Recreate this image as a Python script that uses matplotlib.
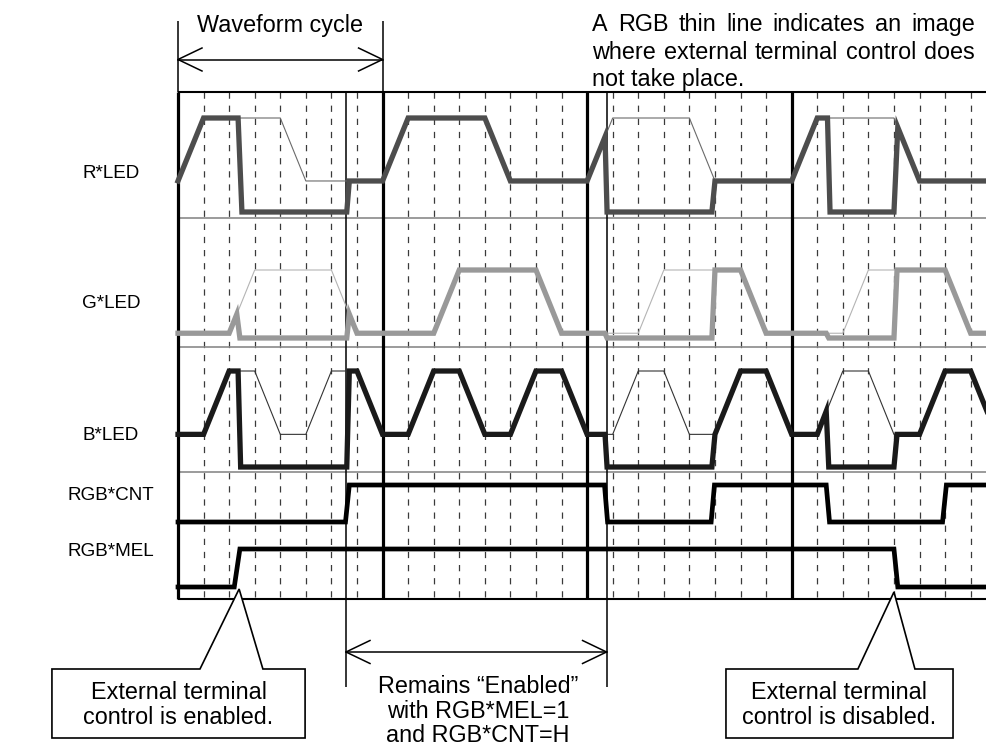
import matplotlib
matplotlib.use("Agg")
import matplotlib.pyplot as plt
from matplotlib.patches import Polygon

plt.rcParams['font.family'] = ['Liberation Sans', 'DejaVu Sans']

W, H, DPI = 987, 746, 100

# waveform breakpoints: time in grid units (8 per waveform cycle), level 0=low .. 1=high
R_MID, G_MID, B_MID = 0.33, 0.07, 0.34

r_norm_t = [0, 1, 4, 5, 8, 9, 12, 13, 16, 17, 20, 21, 24, 25, 28, 29, 31.7]
r_norm_v = [R_MID, 1, 1, R_MID, R_MID, 1, 1, R_MID, R_MID, 1, 1, R_MID, R_MID, 1, 1, R_MID, R_MID]
r_t = [0, 1, 2.35, 2.5, 6.6, 6.7, 8, 9, 12, 13, 16, 16.7, 16.78, 20.88, 21, 24, 25, 25.4, 25.5,
       28, 28.15, 29, 31.7]
r_v = [R_MID, 1, 1, 0, 0, R_MID, R_MID, 1, 1, R_MID, R_MID, 0.8, 0, 0, R_MID, R_MID, 1, 1, 0,
       0, 0.9, R_MID, R_MID]

g_norm_t = [0, 2, 3, 6, 7, 10, 11, 14, 15, 18, 19, 22, 23, 26, 27, 30, 31, 31.7]
g_norm_v = [G_MID, G_MID, 1, 1, G_MID, G_MID, 1, 1, G_MID, G_MID, 1, 1, G_MID, G_MID, 1, 1, G_MID, G_MID]
g_t = [0, 2, 2.3, 2.42, 6.6, 6.7, 7, 10, 11, 14, 15, 16.7, 16.78, 20.88, 21, 22, 23, 25.35, 25.45,
       28, 28.12, 30, 31, 31.7]
g_v = [G_MID, G_MID, 0.35, 0, 0, 0.35, G_MID, G_MID, 1, 1, G_MID, G_MID, 0, 0, 1, 1, G_MID, G_MID, 0,
       0, 1, 1, G_MID, G_MID]

b_norm_t = [0, 1, 2, 3, 4, 5, 6, 7, 8, 9, 10, 11, 12, 13, 14, 15, 16, 17, 18, 19, 20, 21, 22, 23,
            24, 25, 26, 27, 28, 29, 30, 31, 31.7]
b_norm_v = [B_MID, B_MID, 1, 1, B_MID, B_MID, 1, 1, B_MID, B_MID, 1, 1, B_MID, B_MID, 1, 1,
            B_MID, B_MID, 1, 1, B_MID, B_MID, 1, 1, B_MID, B_MID, 1, 1, B_MID, B_MID, 1, 1, 0.54]
b_t = [0, 1, 2, 2.35, 2.45, 6.6, 6.7, 7, 8, 9, 10, 11, 12, 13, 14, 15, 16, 16.7, 16.78, 20.88, 21,
       22, 23, 24, 25, 25.35, 25.45, 28, 28.12, 29, 30, 31, 31.7]
b_v = [B_MID, B_MID, 1, 1, 0, 0, 1, 1, B_MID, B_MID, 1, 1, B_MID, B_MID, 1, 1, B_MID, B_MID, 0, 0,
       B_MID, 1, 1, B_MID, B_MID, 0.58, 0, 0, B_MID, B_MID, 1, 1, 0.54]

cnt_t = [0, 6.55, 6.7, 16.68, 16.8, 20.85, 20.98, 25.35, 25.48, 29.9, 30.05, 31.7]
cnt_v = [0, 0, 1, 1, 0, 0, 1, 1, 0, 0, 1, 1]
mel_t = [0, 2.2, 2.42, 28.0, 28.15, 31.7]
mel_v = [0, 0, 1, 1, 0, 0]

row_labels = ['R*LED', 'G*LED', 'B*LED', 'RGB*CNT', 'RGB*MEL']
cycle_t = [0, 8, 16, 24]
grid_t = [t for t in range(1, 32) if t % 8]
marker_t = [6.57, 16.76]

note_lines = ['A RGB thin line indicates an image',
              'where external terminal control does',
              'not take place.']

# layout (pixels from top-left of the image)
PX = 25.57
X0, Y_TOP, Y_BOT = 178, 92, 599
XLIM = (-X0 / PX, (W - X0) / PX)
rows = {  # (pixel of level 0, pixel of level 1, label y)
    'R*LED': (212, 118, 174),
    'G*LED': (338, 270, 303),
    'B*LED': (467, 371, 436),
    'RGB*CNT': (522, 485, 496),
    'RGB*MEL': (587, 549, 551),
}
FS_NOTE = 16.8
FS_LABEL = 13.6

fig = plt.figure(figsize=(W / DPI, H / DPI), dpi=DPI)
base = fig.add_axes([0, 0, 1, 1])
base.set_xlim(*XLIM)
base.set_ylim(H, 0)
base.axis('off')

# grid and frame
base.vlines(grid_t, Y_TOP, Y_BOT, colors='#3a3a3a', lw=0.9, linestyles=(0, (5, 5.5)))
base.hlines([218, 347, 472], 0, XLIM[1], colors='#8a8a8a', lw=1.2)
base.hlines([Y_TOP, Y_BOT], 0, XLIM[1], colors='black', lw=1.5)
base.vlines(cycle_t, Y_TOP, Y_BOT, colors='black', lw=2.3)
base.vlines(marker_t, Y_TOP, 687, colors='black', lw=1.1)
base.vlines(cycle_t[:2], 21, Y_TOP, colors='black', lw=1.1)


def row_axes(name):
    lo, hi, _ = rows[name]
    a = fig.add_axes([0, 0, 1, 1])
    a.set_xlim(*XLIM)
    a.set_ylim((lo - H) / (lo - hi), lo / (lo - hi))
    a.axis('off')
    a.patch.set_visible(False)
    return a


ax_r = row_axes('R*LED')
ax_r.plot(r_norm_t, r_norm_v, color='#6a6a6a', lw=0.8)
ax_r.plot(r_t, r_v, color='#4d4d4d', lw=3.8, solid_joinstyle='miter')
ax_g = row_axes('G*LED')
ax_g.plot(g_norm_t, g_norm_v, color='#b4b4b4', lw=0.8)
ax_g.plot(g_t, g_v, color='#999999', lw=3.8, solid_joinstyle='miter')
ax_b = row_axes('B*LED')
ax_b.plot(b_norm_t, b_norm_v, color='#333333', lw=0.8)
ax_b.plot(b_t, b_v, color='#1a1a1a', lw=3.8, solid_joinstyle='miter')
ax_c = row_axes('RGB*CNT')
ax_c.plot(cnt_t, cnt_v, color='black', lw=3.4, solid_joinstyle='miter')
ax_m = row_axes('RGB*MEL')
ax_m.plot(mel_t, mel_v, color='black', lw=3.4, solid_joinstyle='miter')

lab_x = (111 - X0) / PX
for name in row_labels:
    base.text(lab_x, rows[name][2], name, ha='center', va='center', fontsize=FS_LABEL)


def double_arrow(ax, t0, t1, y):
    hl, hw = 24 / PX, 11.5
    ax.plot([t0, t1], [y, y], color='black', lw=1.1)
    ax.plot([t0 + hl, t0, t0 + hl], [y - hw, y, y + hw], color='black', lw=1.1)
    ax.plot([t1 - hl, t1, t1 - hl], [y - hw, y, y + hw], color='black', lw=1.1)


double_arrow(base, cycle_t[0], cycle_t[1], 59.5)
base.text(4, 32, 'Waveform cycle', ha='center', va='baseline', fontsize=FS_NOTE)

double_arrow(base, marker_t[0], marker_t[1], 652)
base.text(11.74, 711, 'Remains \u201cEnabled\u201d\nwith RGB*MEL=1\nand RGB*CNT=H',
          ha='center', va='center', fontsize=FS_NOTE, linespacing=1.1)

# callouts
for pts, tx, msg in [
    ([(-4.93, 669), (0.86, 669), (2.39, 589), (3.32, 669), (4.97, 669), (4.97, 738), (-4.93, 738)],
     0.02, 'External terminal\ncontrol is enabled.'),
    ([(21.43, 669), (26.59, 669), (28.0, 592), (28.82, 669), (30.31, 669), (30.31, 738), (21.43, 738)],
     25.87, 'External terminal\ncontrol is disabled.'),
]:
    base.add_patch(Polygon(pts, closed=True, fill=True, fc='white', ec='black', lw=1.2, zorder=3))
    base.text(tx, 705, msg, ha='center', va='center', fontsize=FS_NOTE, linespacing=1.12, zorder=4)

# justified note at the top right (last line left aligned)
note_x0, note_x1 = (592 - X0) / PX, (975 - X0) / PX
note_y = [31, 59, 86]
fig.canvas.draw()
renderer = fig.canvas.get_renderer()
for i, line in enumerate(note_lines):
    if i == len(note_lines) - 1:
        base.text(note_x0, note_y[i], line, ha='left', va='baseline', fontsize=FS_NOTE)
        continue
    words = line.split()
    texts = [base.text(note_x0, note_y[i], w, ha='left', va='baseline', fontsize=FS_NOTE)
             for w in words]
    widths = [t.get_window_extent(renderer).width / PX for t in texts]
    gap = ((note_x1 - note_x0) - sum(widths)) / (len(words) - 1)
    x = note_x0
    for t, w in zip(texts, widths):
        t.set_x(x)
        x += w + gap

fig.savefig('out.png', dpi=DPI)
